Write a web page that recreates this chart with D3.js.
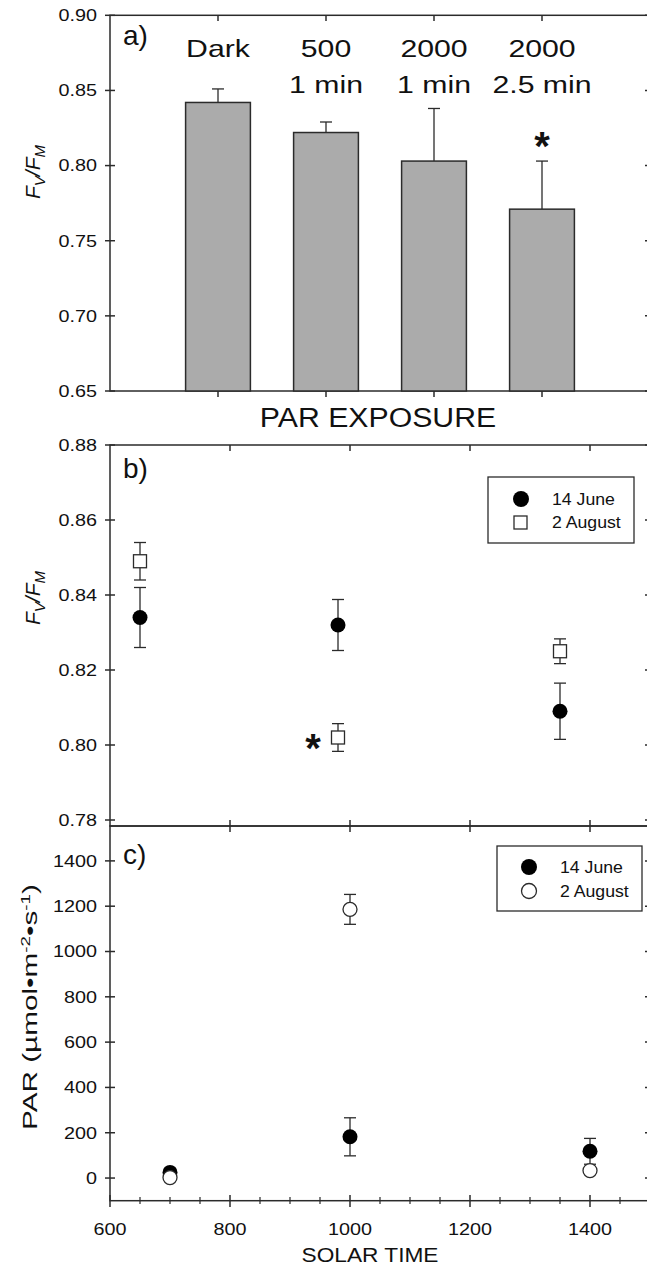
<!DOCTYPE html>
<html>
<head>
<meta charset="utf-8">
<script src="https://cdn.jsdelivr.net/npm/d3@7"></script>
<style>
body { margin: 0; background: #fff; }
text { font-family: "Liberation Sans", Arial, Helvetica, sans-serif; fill: #111; }
</style>
</head>
<body>
<svg id="chart" width="647" height="1274"></svg>
<script>
// Panel a: Fv/Fm after each PAR exposure
const exposureLine1 = ["Dark", "500", "2000", "2000"];
const exposureLine2 = ["", "1 min", "1 min", "2.5 min"];
const exposureFvFm = [0.842, 0.822, 0.803, 0.771];
const exposureErr = [0.009, 0.007, 0.035, 0.032];
const exposureStar = [false, false, false, true];

// Panel b: Fv/Fm through the day
const timeB = [650, 980, 1350];
const juneFvFm = [0.834, 0.832, 0.809];
const juneFvFmErr = [0.008, 0.0068, 0.0075];
const augFvFm = [0.849, 0.802, 0.825];
const augFvFmErr = [0.005, 0.0037, 0.0033];
const augStar = [false, true, false];

// Panel c: PAR through the day
const timeC = [700, 1000, 1400];
const junePar = [25, 182, 118];
const juneParErr = [0, 84, 57];
const augPar = [2, 1186, 33];
const augParErr = [0, 66, 0];

// Tick labels
const ticksA = [0.65, 0.70, 0.75, 0.80, 0.85, 0.90];
const ticksB = [0.78, 0.80, 0.82, 0.84, 0.86, 0.88];
const ticksC = [0, 200, 400, 600, 800, 1000, 1200, 1400];
const timeTicks = [600, 800, 1000, 1200, 1400];
const timeMinor = d3.range(600, 1500, 50).filter(t => t % 200 !== 0);

const INK = "#2b2b2b";
const LW = 1.5;

const svg = d3.select("#chart");

// Scales
const xA = d3.scaleLinear().domain([0, 5]).range([110, 650]);
const xT = d3.scaleLinear().domain([600, 1500]).range([110, 650]);
const yA = d3.scaleLinear().domain([0.65, 0.90]).range([391, 15.3]);
const yB = d3.scaleLinear().domain([0.7784, 0.88]).range([826, 445]);
const yC = d3.scaleLinear().domain([-100, 1554]).range([1200.7, 826]);

// Text helper, sx stretches the glyphs along the text direction
function label(x, y, str, o) {
    let tr = "translate(" + x + "," + y + ")";
    if (o.rotate) tr += " rotate(-90)";
    tr += " scale(" + (o.sx || 1) + ",1)";
    return svg.append("text")
        .attr("transform", tr)
        .attr("text-anchor", o.anchor || "middle")
        .style("font-size", o.size + "px")
        .style("font-weight", o.bold ? "bold" : null)
        .text(str);
}

function line(x1, y1, x2, y2, w) {
    svg.append("line")
        .attr("x1", x1).attr("y1", y1).attr("x2", x2).attr("y2", y2)
        .attr("stroke", INK).attr("stroke-width", w || LW);
}

// Frame with left ticks (crossing), right ticks (inward) and labels
function frame(y, ticks, fmt) {
    const [y0, y1] = y.range();
    svg.append("rect")
        .attr("x", 110).attr("y", y1)
        .attr("width", 540).attr("height", y0 - y1)
        .attr("fill", "none").attr("stroke", INK).attr("stroke-width", LW);
    ticks.forEach(t => {
        line(105, y(t), 115, y(t));
        line(645, y(t), 650, y(t));
        label(97, y(t) + 5.9, fmt(t), {size: 16.5, sx: 1.2, anchor: "end"});
    });
}

function errBar(x, lo, hi, half) {
    line(x, lo, x, hi, 1.3);
    line(x - half, lo, x + half, lo, 1.3);
    line(x - half, hi, x + half, hi, 1.3);
}

// ---------- Panel a ----------
frame(yA, ticksA, d3.format(".2f"));

exposureFvFm.forEach((v, i) => {
    const cx = xA(i + 1);
    line(cx, yA(v), cx, yA(v + exposureErr[i]), 1.3);
    line(cx - 6, yA(v + exposureErr[i]), cx + 6, yA(v + exposureErr[i]), 1.3);
});

svg.selectAll(".bar")
    .data(exposureFvFm)
    .enter()
    .append("rect")
    .attr("class", "bar")
    .attr("x", (d, i) => xA(i + 1 - 0.3))
    .attr("width", (d, i) => xA(i + 1 + 0.3) - xA(i + 1 - 0.3))
    .attr("y", d => yA(d))
    .attr("height", d => yA(0.65) - yA(d))
    .attr("fill", "#ababab")
    .attr("stroke", INK)
    .attr("stroke-width", LW);

exposureLine1.forEach((s, i) => {
    const cx = xA(i + 1);
    line(cx, 15.3, cx, 21);
    line(cx, 391, cx, 397);
    label(cx, 57, s, {size: 24, sx: 1.26});
    if (exposureLine2[i]) label(cx, 93, exposureLine2[i], {size: 24, sx: 1.26});
    if (exposureStar[i]) {
        label(cx, yA(exposureFvFm[i] + exposureErr[i]) - 1, "*", {size: 40, bold: true});
    }
});

label(123, 45, "a)", {size: 28, anchor: "start"});
label(378, 427, "PAR EXPOSURE", {size: 27, sx: 1.12});

// Fv/Fm axis title
function fvfmTitle(x, y) {
    const t = svg.append("text")
        .attr("transform", "translate(" + x + "," + y + ") rotate(-90)")
        .attr("text-anchor", "middle")
        .style("font-size", "21px")
        .style("font-style", "italic");
    t.append("tspan").text("F");
    t.append("tspan").attr("dy", 5).style("font-size", "15px").text("V");
    t.append("tspan").attr("dy", -5).text("/F");
    t.append("tspan").attr("dy", 5).style("font-size", "15px").text("M");
}
fvfmTitle(40, 172);

// ---------- Panel b ----------
frame(yB, ticksB, d3.format(".2f"));
timeTicks.slice(1).forEach(t => {
    line(xT(t), 445, xT(t), 451);
    line(xT(t), 820, xT(t), 832);
});

timeB.forEach((t, i) => {
    errBar(xT(t), yB(juneFvFm[i] - juneFvFmErr[i]), yB(juneFvFm[i] + juneFvFmErr[i]), 6);
    errBar(xT(t), yB(augFvFm[i] - augFvFmErr[i]), yB(augFvFm[i] + augFvFmErr[i]), 6);
});

svg.selectAll(".juneB")
    .data(juneFvFm)
    .enter()
    .append("circle")
    .attr("cx", (d, i) => xT(timeB[i]))
    .attr("cy", d => yB(d))
    .attr("r", 7.5)
    .attr("fill", "#000");

svg.selectAll(".augB")
    .data(augFvFm)
    .enter()
    .append("rect")
    .attr("x", (d, i) => xT(timeB[i]) - 6.5)
    .attr("y", d => yB(d) - 6.5)
    .attr("width", 13)
    .attr("height", 13)
    .attr("fill", "#fff")
    .attr("stroke", INK)
    .attr("stroke-width", 1.3);

augStar.forEach((s, i) => {
    if (s) label(xT(timeB[i]) - 25, yB(augFvFm[i]) + 24, "*", {size: 40, bold: true});
});

label(123, 478, "b)", {size: 28, anchor: "start"});
fvfmTitle(40, 598);

// legend b
svg.append("rect").attr("x", 488).attr("y", 477).attr("width", 146).attr("height", 66)
    .attr("fill", "#fff").attr("stroke", INK).attr("stroke-width", 1.3);
svg.append("circle").attr("cx", 521).attr("cy", 499).attr("r", 8).attr("fill", "#000");
svg.append("rect").attr("x", 514).attr("y", 516).attr("width", 13).attr("height", 13)
    .attr("fill", "#fff").attr("stroke", INK).attr("stroke-width", 1.3);
label(552, 505, "14 June", {size: 17, sx: 1.04, anchor: "start"});
label(552, 528, "2 August", {size: 17, sx: 1.04, anchor: "start"});

// ---------- Panel c ----------
frame(yC, ticksC, d3.format("d"));
timeTicks.forEach(t => {
    line(xT(t), 1195, xT(t), 1207);
    label(xT(t), 1235, String(t), {size: 16.5, sx: 1.2});
});
timeMinor.forEach(t => line(xT(t), 1197, xT(t), 1204, 1.2));

timeC.forEach((t, i) => {
    if (juneParErr[i] > 0) errBar(xT(t), yC(junePar[i] - juneParErr[i]), yC(junePar[i] + juneParErr[i]), 6);
    if (augParErr[i] > 0) errBar(xT(t), yC(augPar[i] - augParErr[i]), yC(augPar[i] + augParErr[i]), 6);
});

svg.selectAll(".juneC")
    .data(junePar)
    .enter()
    .append("circle")
    .attr("cx", (d, i) => xT(timeC[i]))
    .attr("cy", d => yC(d))
    .attr("r", 7.5)
    .attr("fill", "#000");

svg.selectAll(".augC")
    .data(augPar)
    .enter()
    .append("circle")
    .attr("cx", (d, i) => xT(timeC[i]))
    .attr("cy", d => yC(d))
    .attr("r", 7)
    .attr("fill", "#fff")
    .attr("stroke", INK)
    .attr("stroke-width", 1.3);

label(123, 864, "c)", {size: 28, anchor: "start"});
label(370, 1262, "SOLAR TIME", {size: 21, sx: 1.08});

// PAR axis title
const parTitle = svg.append("text")
    .attr("transform", "translate(37,1007) rotate(-90) scale(1.45,1)")
    .attr("text-anchor", "middle")
    .style("font-size", "20.5px");
parTitle.append("tspan").text("PAR (\u00b5mol\u2022m");
parTitle.append("tspan").attr("dy", -7).style("font-size", "13px").text("-2");
parTitle.append("tspan").attr("dy", 7).text("\u2022s");
parTitle.append("tspan").attr("dy", -7).style("font-size", "13px").text("-1");
parTitle.append("tspan").attr("dy", 7).text(")");

// legend c
svg.append("rect").attr("x", 497).attr("y", 846).attr("width", 145).attr("height", 65)
    .attr("fill", "#fff").attr("stroke", INK).attr("stroke-width", 1.3);
svg.append("circle").attr("cx", 529).attr("cy", 867).attr("r", 8).attr("fill", "#000");
svg.append("circle").attr("cx", 529).attr("cy", 891).attr("r", 7.5)
    .attr("fill", "#fff").attr("stroke", INK).attr("stroke-width", 1.3);
label(560, 873, "14 June", {size: 17, sx: 1.04, anchor: "start"});
label(560, 897, "2 August", {size: 17, sx: 1.04, anchor: "start"});
</script>
</body>
</html>
